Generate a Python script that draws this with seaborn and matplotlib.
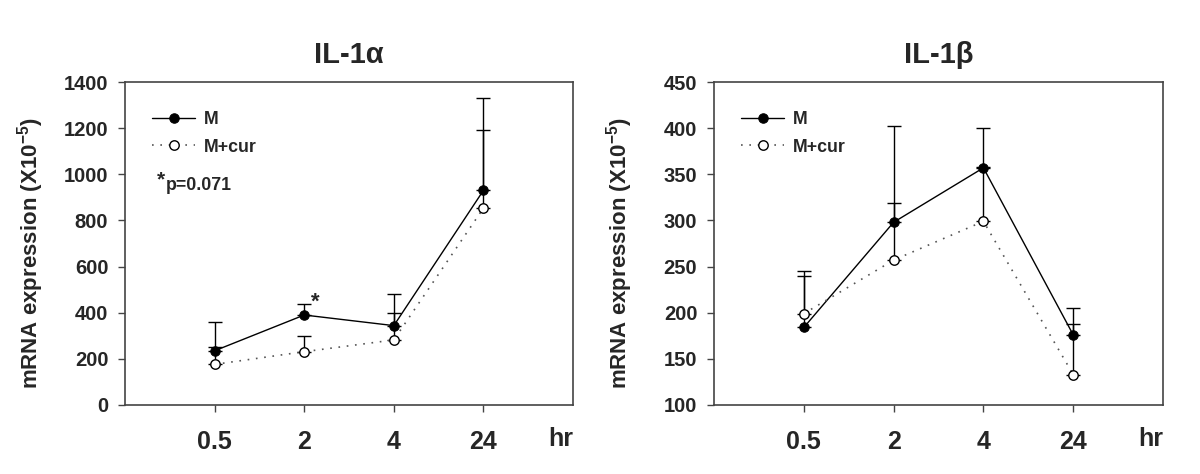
import matplotlib
matplotlib.use("Agg")
import matplotlib.pyplot as plt
import numpy as np
import seaborn as sns

hours = ["0.5", "2", "4", "24"]

# IL-1 alpha
a_m = [235, 390, 344, 930]
a_m_top = [361, 438, 480, 1330]
a_cur = [176, 231, 282, 853]
a_cur_top = [252, 298, 399, 1193]

# IL-1 beta
b_m = [184, 298, 357, 176]
b_m_top = [245, 402, 400, 205]
b_cur = [199, 257, 299, 133]
b_cur_top = [240, 319, 358, 188]

sns.set_style("ticks")
plt.rcParams["font.family"] = ["Liberation Sans", "DejaVu Sans"]
plt.rcParams["font.weight"] = "bold"
plt.rcParams["mathtext.fontset"] = "custom"
plt.rcParams["mathtext.bf"] = "Liberation Sans:bold"
plt.rcParams["mathtext.rm"] = "Liberation Sans:bold"


def panel(ax, m, m_top, cur, cur_top, ylim, yticks, title):
    xs = np.arange(len(hours))
    m, cur = np.array(m), np.array(cur)
    ax.errorbar(xs, m, yerr=[np.zeros(len(xs)), np.array(m_top) - m],
                fmt="none", ecolor="black", elinewidth=1, capsize=5, capthick=1, zorder=1)
    ax.errorbar(xs, cur, yerr=[np.zeros(len(xs)), np.array(cur_top) - cur],
                fmt="none", ecolor="black", elinewidth=1, capsize=5, capthick=1, zorder=1)
    sns.lineplot(x=xs, y=m, ax=ax, color="black", lw=1, marker="o", markersize=6.8,
                 markerfacecolor="black", markeredgecolor="black", label="M", zorder=3)
    sns.lineplot(x=xs, y=cur, ax=ax, color="#555555", lw=1.2, ls=(0, (1, 4)), marker="o",
                 markersize=6.8, markerfacecolor="white", markeredgecolor="black",
                 markeredgewidth=1, label="M+cur", zorder=3)
    ax.set_xlim(-1, 4)
    ax.set_ylim(*ylim)
    ax.set_xticks(xs)
    ax.set_xticklabels(hours, fontsize=18, fontweight="bold")
    ax.set_yticks(yticks)
    ax.set_yticklabels([str(v) for v in yticks], fontsize=14.5, fontweight="bold")
    ax.tick_params(axis="x", length=5, width=1, pad=13, color="#444444")
    ax.tick_params(axis="y", length=5, width=1, pad=7, color="#444444")
    for s in ax.spines.values():
        s.set_visible(True)
        s.set_color("#444444")
        s.set_linewidth(1.2)
    ax.set_xlabel("")
    ax.set_ylabel("mRNA expression (X10$^{\\mathbf{-5}}$)", fontsize=16, fontweight="bold")
    ax.yaxis.set_label_coords(-0.177, 0.47)
    ax.set_title(title, fontsize=21, fontweight="bold", pad=14)
    ax.text(4, -0.105, "hr", transform=ax.get_xaxis_transform(), ha="right", va="center",
            fontsize=18, fontweight="bold")
    leg = ax.legend(loc="upper left", bbox_to_anchor=(0.025, 0.96), frameon=False,
                    handlelength=2.4, fontsize=12.8, labelspacing=0.6, handletextpad=0.5)
    for t in leg.get_texts():
        t.set_fontweight("bold")
    return xs


fig = plt.figure(figsize=(12, 4.74), dpi=100)
ax1 = fig.add_axes([0.1042, 0.1456, 0.3733, 0.6814])
ax2 = fig.add_axes([0.595, 0.1456, 0.3742, 0.6814])

xs = panel(ax1, a_m, a_m_top, a_cur, a_cur_top, (0, 1400), list(range(0, 1401, 200)), "IL-1α")
panel(ax2, b_m, b_m_top, b_cur, b_cur_top, (100, 450), list(range(100, 451, 50)), "IL-1β")

# significance marks
ax1.annotate("*", xy=(xs[1], a_m_top[1]), xytext=(5, -6), textcoords="offset points",
             fontsize=16, fontweight="bold", ha="left", va="bottom")
ax1.text(0.071, 0.725, "*", transform=ax1.transAxes, fontsize=15, fontweight="bold", va="top")
ax1.text(0.091, 0.681, "p=0.071", transform=ax1.transAxes, fontsize=12.8, fontweight="bold", va="center")

fig.savefig("out.png", dpi=100)
